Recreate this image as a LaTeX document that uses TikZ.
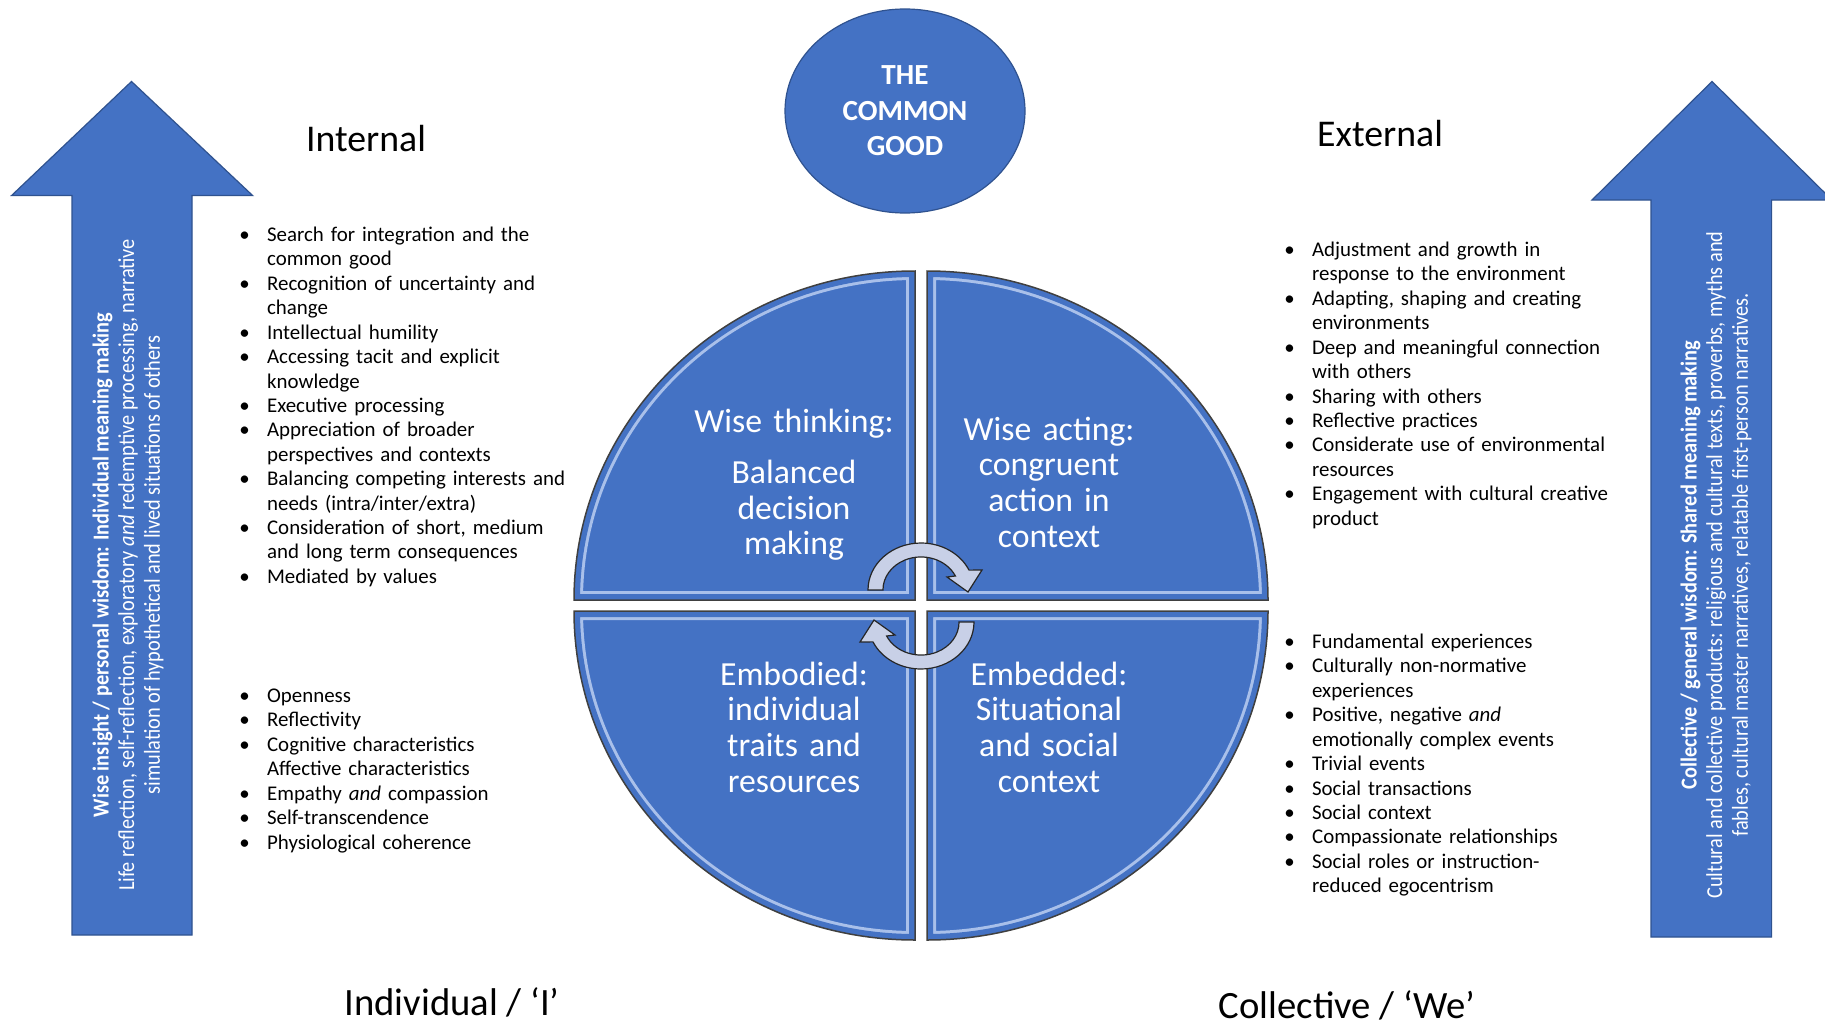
\documentclass[tikz,border=0pt]{standalone}
\usepackage{fontspec}
\setmainfont{Carlito}
\newfontfamily\narrowfont[FakeStretch=0.89]{Carlito}
\usetikzlibrary{positioning,shapes.geometric}

% one unit of the grid
\newdimen\pxu
\pxu=0.02cm

\definecolor{officeblue}{HTML}{4472C4}
\definecolor{edgeblue}{HTML}{2F528F}
\definecolor{bevel}{HTML}{A9C0EA}
\definecolor{cyclefill}{HTML}{C8D0E7}

% bullets for the lists
\newcommand\bul{\makebox[15.8pt][l]{•}}
\newcommand\hng{\hspace*{15.8pt}}

% outline of one quarter of the wheel, corner at the origin
\newcommand\quarterpath{(0,0) -- (-341,0) arc[start angle=180, end angle=270, x radius=341, y radius=329] -- cycle}

\tikzset{
    %Define style for the big up arrows
    bigarrow/.style={
      fill=officeblue,
      draw=edgeblue,
      line width=1.2\pxu},
    %Define style for the text inside the arrows
    arrowtext/.style={
      rotate=90,
      text=white,
      align=center,
      inner sep=0,
      font=\narrowfont\fontsize{13}{14.6}\selectfont},
    %Define style for the bullet lists
    listbox/.style={
      anchor=base west,
      text width=9cm,
      align=left,
      inner sep=0,
      font=\fontsize{11.9}{13.9}\selectfont},
    %Define style for the headings
    heading/.style={
      anchor=base,
      inner sep=0,
      font=\fontsize{21.5}{26}\selectfont},
    %Define style for the labels in the wheel
    quadlabel/.style={
      anchor=base,
      text width=5cm,
      align=center,
      inner sep=0,
      text=white,
      font=\fontsize{19.2}{20.4}\selectfont},
    % Define the curved arrows in the middle
    cycarrow/.style={
      fill=cyclefill,
      draw=black!85,
      line width=1.2\pxu},
    % one quarter of the wheel
    quarter/.pic={
      \begin{scope}
        \clip \quarterpath;
        \fill[officeblue] \quarterpath;
        \draw[line width=18\pxu, bevel] \quarterpath;
        \draw[line width=12\pxu, officeblue] \quarterpath;
      \end{scope}
      \draw[black!75, line width=1.5\pxu] \quarterpath;
    }
}

\begin{document}
\begin{tikzpicture}[x=0.02cm, y=-0.02cm]
    \useasboundingbox (0,0) rectangle (1825,1024);
    \clip (0,0) rectangle (1825,1024);
    \fill[white] (0,0) rectangle (1825,1024);

    % up arrows at both sides
    \draw[bigarrow] (72,935) -- (72,195.5) -- (11.6,195.5) -- (131.5,81.5)
      -- (252.6,195.5) -- (192,195.5) -- (192,935) -- cycle;
    \draw[bigarrow] (1651,937) -- (1651,200) -- (1592,200) -- (1712,81.5)
      -- (1832,200) -- (1771.6,200) -- (1771.6,937) -- cycle;
    \node[arrowtext] (insight) at (128,565)
      {\textbf{Wise insight / personal wisdom: Individual meaning making}\\
       Life reflection, self-reflection, exploratory \textit{and} redemptive processing, narrative\\
       simulation of hypothetical and lived situations of others};
    \node[arrowtext] (general) at (1716,565)
      {\textbf{Collective / general wisdom: Shared meaning making}\\
       Cultural and collective products: religious and cultural texts, proverbs, myths and\\
       fables, cultural master narratives, relatable first-person narratives.};

    % top circle
    \node[ellipse, fill=officeblue, draw=edgeblue, line width=1.2\pxu,
      minimum width=240\pxu, minimum height=204\pxu, inner sep=0,
      text=white, align=center, font=\bfseries\fontsize{16.6}{20.2}\selectfont]
      (good) at (905,111) {THE\\COMMON\\GOOD};

    % headings
    \node[heading] (internal) at (366,152) {Internal};
    \node[heading] (external) at (1380,146) {External};
    \node[heading, font=\fontsize{22}{26}\selectfont] (individual) at (452,1015) {Individual / ‘I’};
    \node[heading, font=\fontsize{22}{26}\selectfont] (collective) at (1347,1018) {Collective / ‘We’};

    % the wheel
    \pic at (915,600) {quarter};
    \pic[xscale=-1] at (927,600) {quarter};
    \pic[yscale=-1] at (915,611) {quarter};
    \pic[xscale=-1, yscale=-1] at (927,611) {quarter};

    \node[quadlabel] (thinking) at (794,432)
      {Wise thinking:\\[8.8pt]Balanced\\decision\\making};
    \node[quadlabel] (acting) at (1049,440)
      {Wise acting:\\congruent\\action in\\context};
    \node[quadlabel] (embodied) at (794,685)
      {Embodied:\\individual\\traits and\\resources};
    \node[quadlabel] (embedded) at (1049,685)
      {Embedded:\\Situational\\and social\\context};

    % curved arrows between the quarters
    \path[cycarrow] (868,590) arc[start angle=180, end angle=335, x radius=53, y radius=47]
      -- (982,570) -- (968,592) -- (947,577) -- (955.4,576)
      arc[start angle=335, end angle=180, x radius=38, y radius=33] -- cycle;
    \path[cycarrow, rotate around={180:(921,606)}] (868,590)
      arc[start angle=180, end angle=335, x radius=53, y radius=47]
      -- (982,570) -- (968,592) -- (947,577) -- (955.4,576)
      arc[start angle=335, end angle=180, x radius=38, y radius=33] -- cycle;

    % lists
    \node[listbox] (thinklist) at (239,241.5) {%
      \bul Search for integration and the\\
      \hng common good\\
      \bul Recognition of uncertainty and\\
      \hng change\\
      \bul Intellectual humility\\
      \bul Accessing tacit and explicit\\
      \hng knowledge\\
      \bul Executive processing\\
      \bul Appreciation of broader\\
      \hng perspectives and contexts\\
      \bul Balancing competing interests and\\
      \hng needs (intra/inter/extra)\\
      \bul Consideration of short, medium\\
      \hng and long term consequences\\
      \bul Mediated by values};
    \node[listbox] (bodylist) at (239,702.5) {%
      \bul Openness\\
      \bul Reflectivity\\
      \bul Cognitive characteristics\\
      \hng Affective characteristics\\
      \bul Empathy \textit{and} compassion\\
      \bul Self-transcendence\\
      \bul Physiological coherence};
    \node[listbox] (actlist) at (1284,256.5) {%
      \bul Adjustment and growth in\\
      \hng response to the environment\\
      \bul Adapting, shaping and creating\\
      \hng environments\\
      \bul Deep and meaningful connection\\
      \hng with others\\
      \bul Sharing with others\\
      \bul Reflective practices\\
      \bul Considerate use of environmental\\
      \hng resources\\
      \bul Engagement with cultural creative\\
      \hng product};
    \node[listbox] (bedlist) at (1284,648.5) {%
      \bul Fundamental experiences\\
      \bul Culturally non-normative\\
      \hng experiences\\
      \bul Positive, negative \textit{and}\\
      \hng emotionally complex events\\
      \bul Trivial events\\
      \bul Social transactions\\
      \bul Social context\\
      \bul Compassionate relationships\\
      \bul Social roles or instruction-\\
      \hng reduced egocentrism};
\end{tikzpicture}
\end{document}
